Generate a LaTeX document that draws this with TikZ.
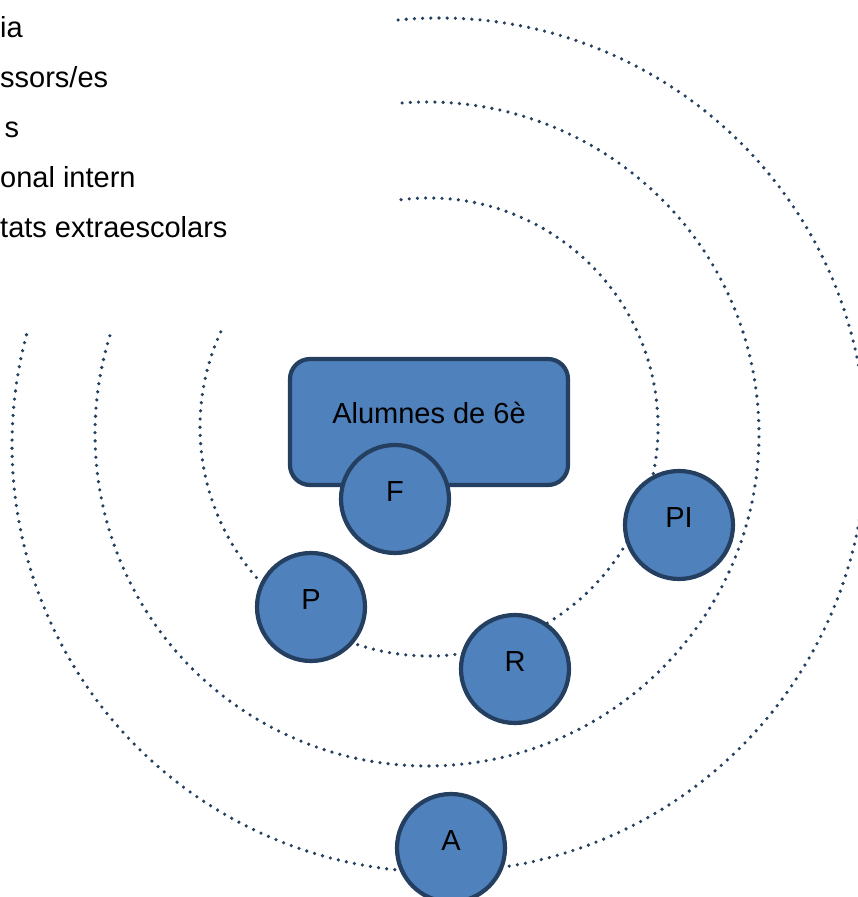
\documentclass[tikz,border=0pt]{standalone}
\usepackage{fontspec}
\setmainfont{Liberation Sans}
\definecolor{fillblue}{HTML}{4F81BD}
\definecolor{edgeblue}{HTML}{243F60}
\begin{document}
\begin{tikzpicture}[x=1pt,y=1pt,
  dotline/.style={draw=edgeblue,line width=3.6pt,line cap=round,dash pattern=on 0pt off 8.2pt},
  bubble/.style={circle,draw=edgeblue,fill=fillblue,line width=4.2pt,minimum size=108pt,inner sep=0pt},
  boxnode/.style={rectangle,rounded corners=20pt,draw=edgeblue,fill=fillblue,line width=4.2pt,minimum width=278pt,minimum height=126pt,inner sep=0pt},
  lbl/.style={font=\fontsize{29}{34}\selectfont,anchor=base,inner sep=0pt,text=black},
  listtxt/.style={font=\fontsize{29}{34}\selectfont,anchor=base west,inner sep=0pt,text=black}]
\useasboundingbox (0,0) rectangle (858,897);
\begin{scope}
\clip (0,0) rectangle (858,897);
% list texts
\node[listtxt] (t1) at (0,859) {ia};
\node[listtxt] (t2) at (0,809) {ssors/es};
\node[listtxt] (t3) at (4.5,759) {s};
\node[listtxt] (t4) at (0,709) {onal intern};
\node[listtxt] (t5) at (0,659) {tats extraescolars};
% centres of the dotted circles
\coordinate (c1) at (429,470);
\coordinate (c2) at (427,463);
\coordinate (c3) at (439,452);
\draw[dotline] (c1) ++(97:229pt) arc[start angle=97,end angle=-205.3,radius=229pt];
\draw[dotline] (c2) ++(94.3:332pt) arc[start angle=94.3,end angle=-198.4,radius=332pt];
\draw[dotline] (c3) ++(95.5:427pt) arc[start angle=95.5,end angle=-195.5,radius=427pt];
% box
\node[boxnode] (box) at (429,475) {};
\node[lbl] (boxt) at ([yshift=-2pt]box.center) {Alumnes de 6è};
% circles
\node[bubble] (F) at (395,398) {};
\node[lbl] (Ft) at ([yshift=-2.5pt]F.center) {F};
\node[bubble] (P) at (311,290) {};
\node[lbl] (Pt) at ([yshift=-2.5pt]P.center) {P};
\node[bubble] (R) at (515,228) {};
\node[lbl] (Rt) at ([yshift=-2.5pt]R.center) {R};
\node[bubble] (PI) at (679,372) {};
\node[lbl] (PIt) at ([yshift=-2.5pt]PI.center) {PI};
\node[bubble] (A) at (451,49) {};
\node[lbl] (At) at ([yshift=-2.5pt]A.center) {A};
\end{scope}
\end{tikzpicture}
\end{document}
